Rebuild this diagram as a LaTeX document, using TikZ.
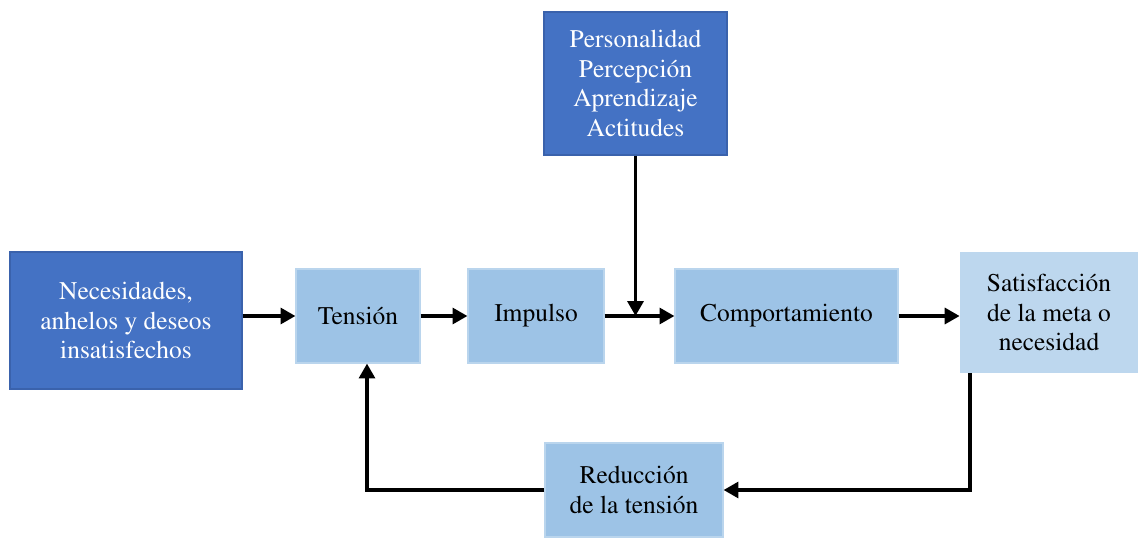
\documentclass[tikz,border=0pt]{standalone}
\usepackage[T1]{fontenc}
\usepackage{times}
\usetikzlibrary{arrows.meta}
\definecolor{darkblue}{HTML}{4472C4}
\definecolor{darkedge}{HTML}{3A62AC}
\definecolor{midblue}{HTML}{9DC3E6}
\definecolor{paleblue}{HTML}{BDD7EE}
\begin{document}
\begin{tikzpicture}[x=0.02cm, y=-0.02cm,
  box/.style={rectangle, inner sep=0pt, align=center,
    font=\rmfamily\fontsize{14.5}{17}\selectfont},
  darkbox/.style={box, fill=darkblue, draw=darkedge, line width=0.6pt, text=white},
  lightbox/.style={box, fill=midblue, draw=midblue!70!white, line width=0.6pt, text=black},
  palebox/.style={box, fill=paleblue, text=black},
  flow/.style={line width=2.1pt, -{Triangle[length=8.5pt, width=9pt]}}]
\useasboundingbox (0,0) rectangle (1138,537);

% boxes
\node[darkbox, minimum width=232*0.02cm, minimum height=137*0.02cm] (nec) at (126,320.5)
  {Necesidades,\\anhelos y deseos\\insatisfechos};
\node[darkbox, minimum width=183*0.02cm, minimum height=143*0.02cm] (pers) at (635.5,83.5)
  {Personalidad\\Percepci\'on\\Aprendizaje\\Actitudes};
\node[lightbox, minimum width=124*0.02cm, minimum height=94*0.02cm] (ten) at (358,316) {Tensi\'on};
\node[lightbox, minimum width=136*0.02cm, minimum height=94*0.02cm] (imp) at (536,316) {Impulso};
\node[lightbox, minimum width=223*0.02cm, minimum height=94*0.02cm] (comp) at (786.5,316) {Comportamiento};
\node[palebox, minimum width=178*0.02cm, minimum height=121*0.02cm] (sat) at (1049,312.5)
  {Satisfacci\'on\\de la meta o\\necesidad};
\node[lightbox, minimum width=178*0.02cm, minimum height=94*0.02cm] (red) at (634,490)
  {Reducci\'on\\de la tensi\'on};

% connectors
\coordinate (join) at (pers.south |- imp.east);
\coordinate (down) at ([xshift=10*0.02cm]sat.south west);
\coordinate (up) at ([xshift=9*0.02cm]ten.south);

\draw[flow] (nec.east |- ten.west) -- (ten.west);
\draw[flow] (ten.east) -- (imp.west);
\draw[flow] (imp.east) -- (comp.west);
\draw[flow] (pers.south) -- (join);
\draw[flow] (comp.east) -- (comp.east -| sat.west);
\draw[flow] (down) |- (red.east);
\draw[flow] (red.west) -| (up);
\end{tikzpicture}
\end{document}
